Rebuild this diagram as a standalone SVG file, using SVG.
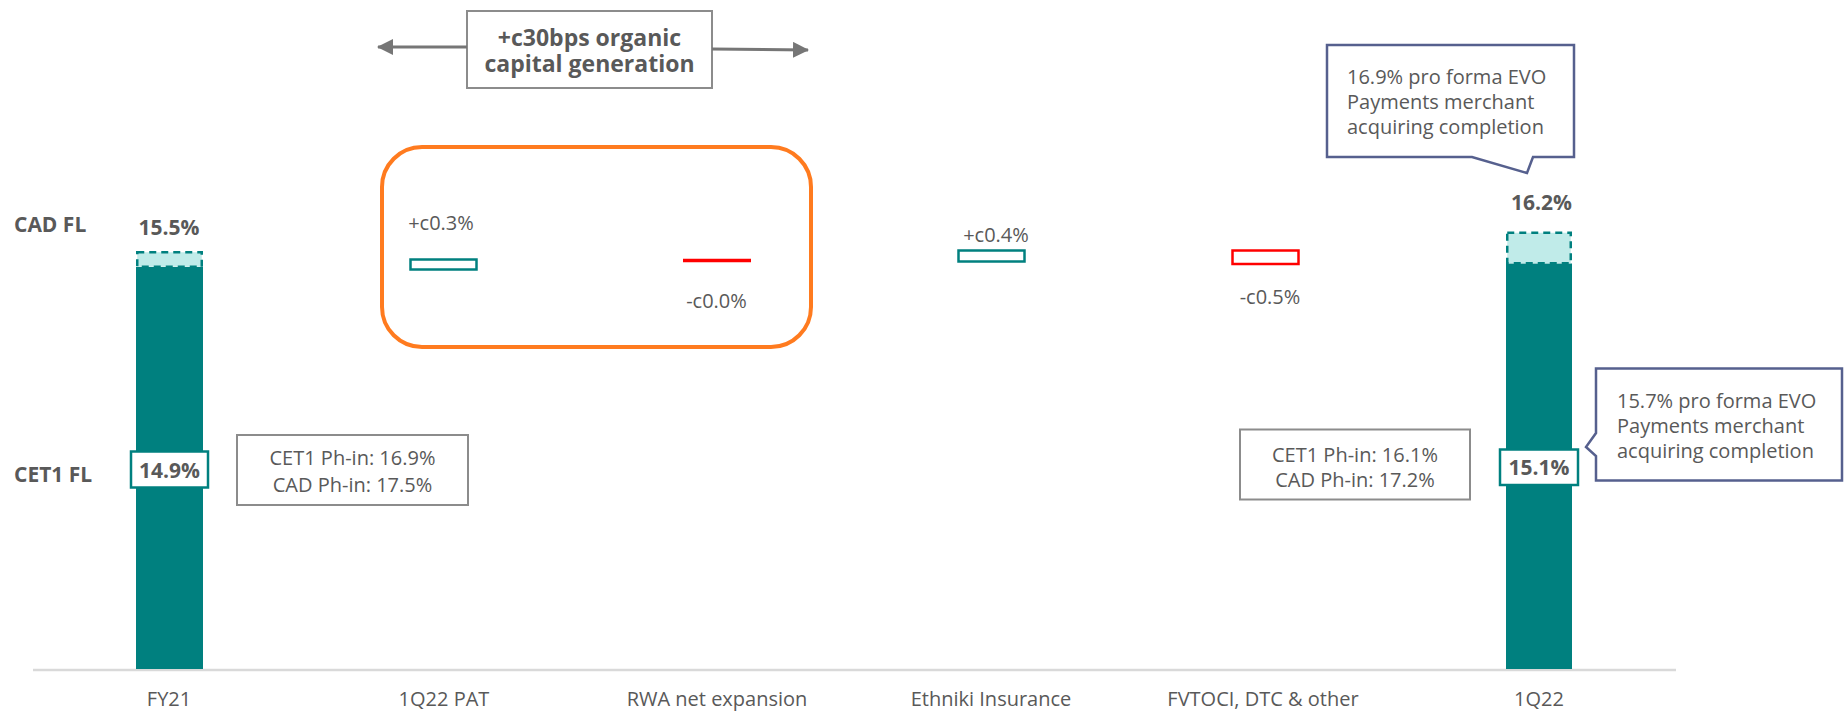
<svg xmlns="http://www.w3.org/2000/svg" width="1844" height="712" viewBox="0 0 1844 712">
<style>
text{font-family:"Open Sans","Noto Sans","Liberation Sans",sans-serif;fill:#595959}
.r20{font-size:20px}
.b21{font-size:21px;font-weight:700}
.b23{font-size:23px;font-weight:700}
.mid{text-anchor:middle}
.bar{fill:#00807F}
.cad{fill:#C0EBE9;stroke:#00807F;stroke-width:2.5;stroke-dasharray:7 5}
.lbl{fill:#fff;stroke:#00807F;stroke-width:2.5}
.up{fill:#fff;stroke:#00807F;stroke-width:2.5}
.down{fill:#fff;stroke:#FF0000;stroke-width:2.5}
.gbox{fill:#fff;stroke:#8C8C8C;stroke-width:2}
.call{fill:#fff;stroke:#56608E;stroke-width:2.5;stroke-linejoin:miter}
.arr{stroke:#767676;stroke-width:3;fill:none}
</style>
<defs>
<marker id="ah" viewBox="0 0 16 16" refX="15" refY="8" markerWidth="16" markerHeight="16" markerUnits="userSpaceOnUse" orient="auto">
<path d="M0,0 L16,8 L0,16 Z" fill="#767676"/>
</marker>
</defs>

<g id="axis">
<line x1="33" y1="670" x2="1676" y2="670" stroke="#D9D9D9" stroke-width="2.5"/>
<text class="r20 mid" x="169" y="706">FY21</text>
<text class="r20 mid" x="444" y="706">1Q22 PAT</text>
<text class="r20 mid" x="717" y="706">RWA net expansion</text>
<text class="r20 mid" x="991" y="706">Ethniki Insurance</text>
<text class="r20 mid" x="1263" y="706">FVTOCI, DTC &amp; other</text>
<text class="r20 mid" x="1539" y="706">1Q22</text>
</g>

<g id="row-labels">
<text class="b21" x="14" y="232">CAD FL</text>
<text class="b21" x="14" y="482">CET1 FL</text>
</g>

<g id="bar-fy21">
<rect class="bar" x="136" y="267" width="67" height="402"/>
<rect class="cad" x="137.25" y="252.25" width="64.5" height="14.5"/>
<text class="b21 mid" x="169" y="235">15.5%</text>
<rect class="lbl" x="131" y="451.5" width="77" height="36"/>
<text class="b21 mid" x="169.5" y="478">14.9%</text>
</g>

<g id="box-fy21-phin">
<rect class="gbox" x="237" y="435" width="231" height="70"/>
<text class="r20 mid" x="352.5" y="465">CET1 Ph-in: 16.9%</text>
<text class="r20 mid" x="352.5" y="492">CAD Ph-in: 17.5%</text>
</g>

<g id="organic-box">
<rect class="gbox" x="467" y="11" width="245" height="77"/>
<text class="b23 mid" x="589.5" y="46">+c30bps organic</text>
<text class="b23 mid" x="589.5" y="72">capital generation</text>
</g>

<g id="highlight">
<rect x="382" y="147" width="429" height="200" rx="40" ry="40" fill="none" stroke="#FF7B1F" stroke-width="4"/>
</g>

<g id="step-pat">
<rect class="up" x="410.5" y="259.5" width="66" height="10"/>
<text class="r20 mid" x="441" y="230">+c0.3%</text>
</g>

<g id="step-rwa">
<line x1="683" y1="260.5" x2="751" y2="260.5" stroke="#FF0000" stroke-width="3.5"/>
<text class="r20 mid" x="716.5" y="308">-c0.0%</text>
</g>

<g id="step-ethniki">
<rect class="up" x="958.5" y="250.5" width="66" height="11"/>
<text class="r20 mid" x="996" y="241.5">+c0.4%</text>
</g>

<g id="step-fvtoci">
<rect class="down" x="1232.5" y="250.5" width="66" height="13.5"/>
<text class="r20 mid" x="1270" y="304">-c0.5%</text>
</g>

<g id="box-1q22-phin">
<rect class="gbox" x="1240" y="429.5" width="230" height="70"/>
<text class="r20 mid" x="1355" y="461.5">CET1 Ph-in: 16.1%</text>
<text class="r20 mid" x="1355" y="486.5">CAD Ph-in: 17.2%</text>
</g>

<g id="bar-1q22">
<rect class="bar" x="1506" y="263.5" width="66" height="405.5"/>
<rect class="cad" x="1507.25" y="232.75" width="63.5" height="30.5"/>
<text class="b21 mid" x="1541.5" y="210">16.2%</text>
<rect class="lbl" x="1500" y="449.5" width="78" height="35.5"/>
<text class="b21 mid" x="1539" y="475">15.1%</text>
</g>

<g id="callout-cad">
<path class="call" d="M1327,45 L1574,45 L1574,157 L1533,157 L1527,173 L1472,157 L1327,157 Z"/>
<text class="r20" x="1347" y="84">16.9% pro forma EVO</text>
<text class="r20" x="1347" y="109">Payments merchant</text>
<text class="r20" x="1347" y="134">acquiring completion</text>
</g>

<g id="callout-cet1">
<path class="call" d="M1596,368.5 L1842,368.5 L1842,480.5 L1596,480.5 L1596,456 L1586,447 L1596,433 Z"/>
<text class="r20" x="1617" y="408">15.7% pro forma EVO</text>
<text class="r20" x="1617" y="433">Payments merchant</text>
<text class="r20" x="1617" y="458">acquiring completion</text>
</g>

<g id="connectors">
<line class="arr" x1="467" y1="47" x2="378" y2="47" marker-end="url(#ah)"/>
<line class="arr" x1="712" y1="49" x2="808" y2="50" marker-end="url(#ah)"/>
</g>
</svg>
